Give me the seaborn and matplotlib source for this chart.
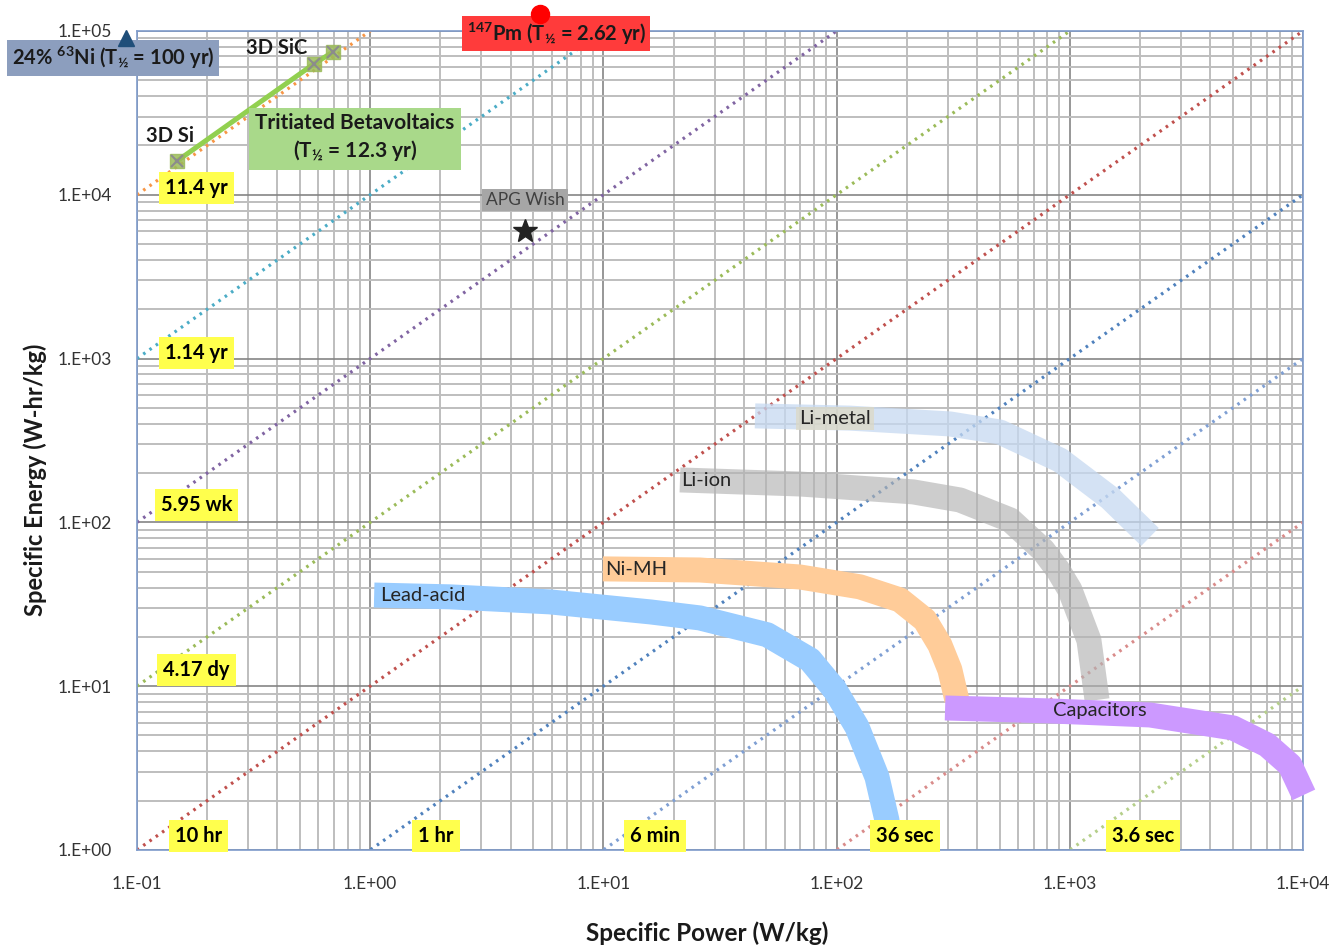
import numpy as np
import pandas as pd
import matplotlib
matplotlib.use("Agg")
import matplotlib.pyplot as plt
import seaborn as sns

# constant-runtime lines: E = P * t  (t in hours)
time_hours = [1e5, 1e4, 1e3, 1e2, 10, 1, 0.1, 0.01, 0.001]
time_labels = ["11.4 yr", "1.14 yr", "5.95 wk", "4.17 dy", "10 hr", "1 hr", "6 min", "36 sec", "3.6 sec"]
time_colors = ["#F79646", "#4BACC6", "#8064A2", "#9BBB59", "#C0504D",
               "#4F81BD", "#7F9FD3", "#D98B8A", "#B5CF8A"]

# Ragone bands (specific power W/kg, specific energy Wh/kg)
lead_p = [1.04, 2.20, 5.90, 15.9, 25.9, 50.4, 76.9, 98.4, 122.3, 149, 164.4, 171]
lead_e = [36.0, 35.1, 32.7, 28.4, 26.1, 20.6, 14.5, 9.49, 5.64, 2.79, 1.52, 1.0]
nimh_p = [9.95, 25.9, 69.7, 126, 187, 239, 277, 306, 328]
nimh_e = [52.0, 51.2, 46.4, 40.4, 33.6, 25.4, 17.9, 12.6, 8.24]
cap_p = [292, 822, 2208, 5012, 7015, 8790, 10090]
cap_e = [7.36, 7.06, 6.67, 5.56, 4.38, 3.30, 2.17]
liion_p = [21.3, 69.7, 213, 338, 555, 767, 890, 1002, 1208, 1309]
liion_e = [181.6, 171.5, 153.5, 137, 103.5, 67.8, 51.2, 38.6, 19.1, 8.24]
limetal_p = [44.7, 114, 306, 502, 908, 1486, 2208]
limetal_e = [446.7, 433, 399, 356, 240, 141, 81.5]

# betavoltaic points
trit_p = [0.1485, 0.574, 0.693]
trit_e = [16070, 62950, 74500]
ni63 = (0.0897, 90600)
pm147 = (5.35, 127000)
apg_wish = (4.61, 6010)

sns.set_style("white")
plt.rcParams["font.family"] = ["Lato", "DejaVu Sans"]
plt.rcParams["mathtext.fontset"] = "custom"
plt.rcParams["mathtext.rm"] = "Lato:bold"
plt.rcParams["mathtext.it"] = "Lato:bold"
plt.rcParams["mathtext.bf"] = "Lato:bold"

fig = plt.figure(figsize=(13.39, 9.5), dpi=100)
ax = fig.add_axes([0.1023, 0.1053, 0.8708, 0.8621])
ax.set_xscale("log")
ax.set_yscale("log")
ax.set_xlim(0.1, 1e4)
ax.set_ylim(1, 1e5)

# Excel-style grid
ax.xaxis.set_minor_locator(matplotlib.ticker.LogLocator(base=10, subs=np.arange(2, 10)))
ax.yaxis.set_minor_locator(matplotlib.ticker.LogLocator(base=10, subs=np.arange(2, 10)))
ax.grid(which="minor", color="#BEBEBE", lw=1.4, zorder=0)
ax.grid(which="major", color="#858585", lw=1.2, zorder=0)
ax.set_axisbelow(True)
fmt = matplotlib.ticker.FuncFormatter(lambda v, p: "1.E%+03d" % round(np.log10(v)))
ax.xaxis.set_major_formatter(fmt)
ax.yaxis.set_major_formatter(fmt)
ax.xaxis.set_minor_formatter(matplotlib.ticker.NullFormatter())
ax.yaxis.set_minor_formatter(matplotlib.ticker.NullFormatter())
ax.tick_params(which="both", length=0, labelsize=12.5, colors="#333333")
ax.tick_params(axis="x", pad=19)
ax.tick_params(axis="y", pad=18)
for s in ax.spines.values():
    s.set_color("#7E9BCB")
    s.set_linewidth(1.2)

# diagonal time lines
p_range = np.array([0.1, 1e4])
for t, c in zip(time_hours, time_colors):
    d = pd.DataFrame({"P": p_range, "E": p_range * t})
    sns.lineplot(data=d, x="P", y="E", ax=ax, color=c, lw=2.3,
                 linestyle=(0, (0.8, 1.6)), sort=False, estimator=None, zorder=1)

# bands
bands = [
    (limetal_p, limetal_e, "#C6D9F1", 0.75),
    (liion_p, liion_e, "#B3B3B3", 0.65),
    (lead_p, lead_e, "#99CCFF", 1.0),
    (nimh_p, nimh_e, "#FFCC99", 1.0),
    (cap_p, cap_e, "#CC99FF", 1.0),
]
for bp, be, c, a in bands:
    d = pd.DataFrame({"P": bp, "E": be})
    sns.lineplot(data=d, x="P", y="E", ax=ax, color=c, alpha=a, lw=18,
                 sort=False, estimator=None, zorder=3, clip_on=False,
                 solid_capstyle="butt", solid_joinstyle="round")

# tritiated betavoltaics
d = pd.DataFrame({"P": trit_p, "E": trit_e})
sns.lineplot(data=d, x="P", y="E", ax=ax, color="#92D050", lw=3.6,
             sort=False, estimator=None, zorder=4)
ax.plot(trit_p, trit_e, ls="none", marker="s", ms=10,
        mfc="#9BBB59", mec="#9BBB59", alpha=0.85, zorder=5)
ax.plot(trit_p, trit_e, ls="none", marker="x", ms=8, mew=1.5, color="#8C8C8C", zorder=6)

ax.plot([ni63[0]], [ni63[1]], marker="^", ms=12, color="#1F4E79", ls="none",
        clip_on=False, zorder=9)
ax.plot([pm147[0]], [pm147[1]], marker="o", ms=13, color="#FF0000", ls="none",
        clip_on=False, zorder=9)
ax.plot([apg_wish[0]], [apg_wish[1]], marker="*", ms=18, color="#222222", ls="none", zorder=6)

ax.set_xlabel("")
ax.set_ylabel("")

# time labels
time_label_pos = [(0.18, 11000), (0.18, 1080), (0.18, 128), (0.18, 12.6), (0.183, 1.22),
                  (1.91, 1.22), (16.6, 1.22), (196, 1.22), (2061, 1.22)]
for (x, y), lab in zip(time_label_pos, time_labels):
    ax.text(x, y, lab, ha="center", va="center", fontsize=14.5, fontweight="bold",
            color="black", zorder=8,
            bbox=dict(boxstyle="square,pad=0.3", fc="#FFFF4D", ec="none"))

# band labels
ax.text(98.4, 433, "Li-metal", ha="center", va="center", fontsize=14.5, zorder=8,
        bbox=dict(boxstyle="square,pad=0.15", fc="#DDD9C3", ec="none", alpha=0.7))
ax.text(27.5, 179, "Li-ion", ha="center", va="center", fontsize=14.5, zorder=8)
ax.text(13.8, 51.2, "Ni-MH", ha="center", va="center", fontsize=14.5, zorder=8)
ax.text(1.68, 36, "Lead-acid", ha="center", va="center", fontsize=14.5, zorder=8)
ax.text(1349, 7.06, "Capacitors", ha="center", va="center", fontsize=14.5, zorder=8)

# betavoltaic labels
ax.text(0.0789, 68400, r"24% $^{63}$Ni (T$_{½}$ = 100 yr)", ha="center", va="center",
        fontsize=14.5, fontweight="bold", color="#1A1A1A", zorder=8,
        bbox=dict(boxstyle="square,pad=0.22", fc="#8C9EBE", ec="none"))
ax.text(6.27, 95900, r"$^{147}$Pm (T$_{½}$ = 2.62 yr)", ha="center", va="center",
        fontsize=14.5, fontweight="bold", color="#1A1A1A", zorder=8,
        bbox=dict(boxstyle="square,pad=0.22", fc="#FF3B3B", ec="none"))
ax.text(0.861, 22240, "Tritiated Betavoltaics\n(T$_{½}$ = 12.3 yr)", ha="center", va="center",
        fontsize=15, fontweight="bold", color="#1A1A1A", zorder=8, linespacing=1.3,
        bbox=dict(boxstyle="square,pad=0.3", fc="#A9D98A", ec="none"))
ax.text(0.1387, 22860, "3D Si", ha="center", va="center", fontsize=14.5,
        fontweight="bold", color="#1A1A1A", zorder=8)
ax.text(0.398, 78700, "3D SiC", ha="center", va="center", fontsize=14.5,
        fontweight="bold", color="#1A1A1A", zorder=8)
ax.text(4.61, 9290, "APG Wish", ha="center", va="center", fontsize=12.5,
        color="#404040", zorder=8,
        bbox=dict(boxstyle="square,pad=0.2", fc="#A6A6A6", ec="none"))

fig.text(0.026, 0.495, "Specific Energy (W-hr/kg)", rotation=90, ha="center", va="center",
         fontsize=17, fontweight="bold", color="#1A1A1A")
fig.text(0.528, 0.018, "Specific Power (W/kg)", ha="center", va="center",
         fontsize=17.5, fontweight="bold", color="#1A1A1A")

fig.savefig("out.png", dpi=100)
